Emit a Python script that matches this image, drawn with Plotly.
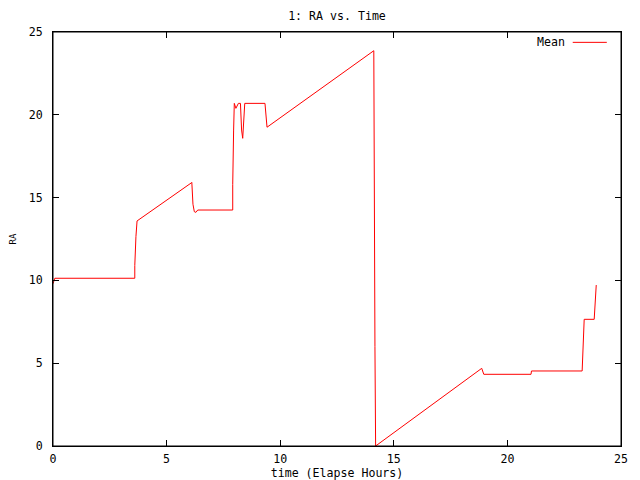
import plotly.graph_objects as go

# Elapsed time (hours) and mean RA values
time_hours = [0.0, 0.05, 0.08, 3.6, 3.6, 3.65, 3.7, 6.1, 6.11, 6.16, 6.22, 6.29, 6.37,
              7.91, 7.91, 7.95, 7.98, 8.05, 8.16, 8.25, 8.3, 8.35, 8.44, 9.33, 9.42,
              14.12, 14.13, 14.17, 14.2, 18.87, 18.96, 21.04, 21.06, 23.29, 23.38,
              23.82, 23.91]
ra_mean = [9.8, 10.13, 10.13, 10.13, 10.9, 12.64, 13.59, 15.9, 15.92, 14.6, 14.15, 14.11, 14.25,
           14.25, 15.8, 19.08, 20.69, 20.39, 20.69, 20.69, 19.08, 18.58, 20.69, 20.69, 19.25,
           23.87, 17.9, 6.0, 0.0, 4.69, 4.33, 4.33, 4.53, 4.53, 7.65,
           7.65, 9.72]

x_ticks = [0, 5, 10, 15, 20, 25]
y_ticks = [0, 5, 10, 15, 20, 25]

FONT = "DejaVu Sans Mono"
FS = 11.6

fig = go.Figure()
fig.add_trace(go.Scatter(x=time_hours, y=ra_mean, mode="lines", name="Mean",
                         line=dict(color="#ff0000", width=1), showlegend=False))

axis_common = dict(showgrid=False, zeroline=False, showline=True, linecolor="black",
                   linewidth=1, mirror="ticks", ticks="inside", ticklen=6,
                   tickcolor="black", tickwidth=1, automargin=False,
                   tickfont=dict(family=FONT, size=FS, color="black"))

fig.update_xaxes(range=[0, 25], tickvals=x_ticks, ticktext=[str(v) for v in x_ticks],
                 title=dict(text="time (Elapse Hours)", font=dict(family=FONT, size=FS, color="black"),
                            standoff=4),
                 ticklabelstandoff=2, **axis_common)
fig.update_yaxes(range=[0, 25], tickvals=y_ticks, ticktext=[str(v) for v in y_ticks],
                 title=dict(text="RA", font=dict(family=FONT, size=9, color="black"), standoff=22),
                 ticklabelstandoff=7, **axis_common)

# plot frame
fig.add_shape(type="rect", xref="paper", yref="paper", x0=0, x1=1, y0=0, y1=1,
              line=dict(color="black", width=1), layer="above")

# gnuplot-style key: text then line sample
fig.add_annotation(x=0.905, y=0.975, xref="paper", yref="paper", text="Mean", showarrow=False,
                   xanchor="right", yanchor="middle", font=dict(family=FONT, size=FS, color="black"))
fig.add_shape(type="line", xref="paper", yref="paper", x0=0.915, x1=0.975, y0=0.975, y1=0.975,
              line=dict(color="#ff0000", width=1))

# page body has an 8px margin: figure is sized/offset to compensate
fig.update_layout(
    width=632, height=472,
    margin=dict(l=45, r=19, t=24, b=34, autoexpand=False),
    paper_bgcolor="white", plot_bgcolor="white",
    title=dict(text="1: RA vs. Time", xref="paper", x=0.5, xanchor="center", y=1 - 8 / 472,
               yanchor="middle", font=dict(family=FONT, size=FS, color="black")),
    font=dict(family=FONT, size=FS, color="black"),
)

fig.write_html("out.html")
